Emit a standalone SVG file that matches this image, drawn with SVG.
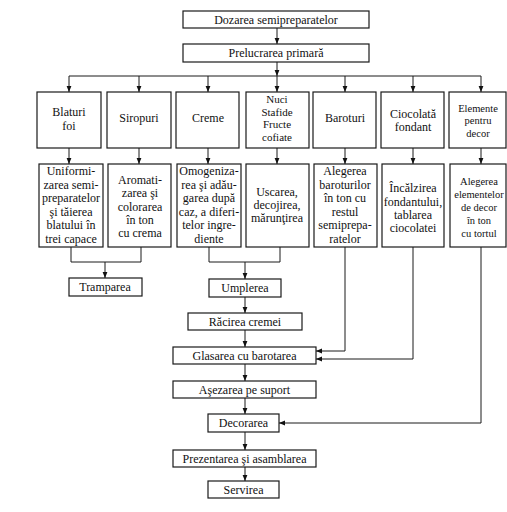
<svg xmlns="http://www.w3.org/2000/svg" width="507" height="512" viewBox="0 0 507 512">
<defs>
<marker id="ah" viewBox="0 0 10 10" refX="10" refY="5" markerWidth="6" markerHeight="6" orient="auto" markerUnits="userSpaceOnUse">
<path d="M0,1 L10,5 L0,9 z" fill="#111"/>
</marker>
</defs>
<style>
rect{fill:#fff;stroke:#1a1a1a;stroke-width:1.2}
text{font-family:"Liberation Serif","Times New Roman",serif;font-size:12px;fill:#111;text-anchor:middle}
.s text{font-size:10.5px}
#n-nuci text{font-size:11px}
#connectors path{fill:none;stroke:#1a1a1a;stroke-width:1}
.a{marker-end:url(#ah)}
</style>
<rect x="0" y="0" width="507" height="512" style="fill:#fff;stroke:none"/>
<g id="connectors">
<path class="a" d="M277,28 V44"/>
<path class="a" d="M277,62 V76"/>
<path d="M69,76 H481"/>
<path class="a" d="M69,76 V92"/>
<path class="a" d="M139,76 V92"/>
<path class="a" d="M208,76 V92"/>
<path class="a" d="M277,76 V92"/>
<path class="a" d="M345,76 V92"/>
<path class="a" d="M413,76 V92"/>
<path class="a" d="M481,76 V92"/>
<path class="a" d="M69,148 V164"/>
<path class="a" d="M139,148 V164"/>
<path class="a" d="M208,148 V164"/>
<path class="a" d="M277,148 V164"/>
<path class="a" d="M345,148 V164"/>
<path class="a" d="M413,148 V164"/>
<path class="a" d="M481,148 V164"/>
<path d="M71,247 V262 H141 V247"/>
<path class="a" d="M105,262 V278"/>
<path d="M209,247 V262 H280 V247"/>
<path class="a" d="M245,262 V279"/>
<path class="a" d="M245,297 V313"/>
<path class="a" d="M245,330 V347"/>
<path class="a" d="M245,364 V381"/>
<path class="a" d="M245,398 V414"/>
<path class="a" d="M245,432 V450"/>
<path class="a" d="M245,467 V481"/>
<path class="a" d="M345,247 V351 H316"/>
<path class="a" d="M413,247 V359 H316"/>
<path class="a" d="M481,247 V423 H279"/>
</g>
<g id="n-dozarea"><rect x="183" y="11" width="186" height="17"/><text x="276" y="24">Dozarea semipreparatelor</text></g>
<g id="n-prelucrarea"><rect x="183" y="44" width="186" height="18"/><text x="276" y="57">Prelucrarea primară</text></g>

<g id="n-blaturi"><rect x="37" y="92" width="64" height="56"/><text x="69" y="116">Blaturi</text><text x="69" y="130">foi</text></g>
<g id="n-siropuri"><rect x="107" y="92" width="64" height="56"/><text x="139" y="122">Siropuri</text></g>
<g id="n-creme"><rect x="176" y="92" width="63" height="56"/><text x="208" y="122">Creme</text></g>
<g id="n-nuci"><rect x="246" y="92" width="63" height="56"/><text x="277" y="103">Nuci</text><text x="277" y="115.5">Stafide</text><text x="277" y="128">Fructe</text><text x="277" y="140.5">cofiate</text></g>
<g id="n-baroturi"><rect x="313" y="92" width="63" height="56"/><text x="345" y="122">Baroturi</text></g>
<g id="n-ciocolata"><rect x="381" y="92" width="63" height="56"/><text x="413" y="118">Ciocolată</text><text x="413" y="131">fondant</text></g>
<g id="n-elemente" class="s"><rect x="449" y="92" width="57" height="56"/><text x="478" y="112">Elemente</text><text x="478" y="124">pentru</text><text x="478" y="136.5">decor</text></g>

<g id="n-uniformizarea"><rect x="39" y="164" width="64" height="83"/><text x="71" y="175">Uniformi-</text><text x="71" y="188.5">zarea semi-</text><text x="71" y="202">preparatelor</text><text x="71" y="215.5">şi tăierea</text><text x="71" y="229">blatului în</text><text x="71" y="242.5">trei capace</text></g>
<g id="n-aromatizarea"><rect x="108" y="164" width="63" height="83"/><text x="140" y="184">Aromati-</text><text x="140" y="197">zarea şi</text><text x="140" y="210.5">colorarea</text><text x="140" y="223.5">în ton</text><text x="140" y="237">cu crema</text></g>
<g id="n-omogenizarea"><rect x="177" y="164" width="64" height="83"/><text x="209" y="175">Omogeniza-</text><text x="209" y="188.5">rea şi adău-</text><text x="209" y="202">garea după</text><text x="209" y="215.5">caz, a diferi-</text><text x="209" y="229">telor ingre-</text><text x="209" y="242.5">diente</text></g>
<g id="n-uscarea"><rect x="246" y="164" width="63" height="83"/><text x="277" y="196">Uscarea,</text><text x="277" y="209">decojirea,</text><text x="277" y="222">mărunţirea</text></g>
<g id="n-alegerea-barot"><rect x="314" y="164" width="63" height="83"/><text x="345" y="175">Alegerea</text><text x="345" y="188.5">baroturilor</text><text x="345" y="202">în ton cu</text><text x="345" y="215.5">restul</text><text x="345" y="229">semiprepa-</text><text x="345" y="242.5">ratelor</text></g>
<g id="n-incalzirea"><rect x="382" y="164" width="62" height="83"/><text x="413" y="192">Încălzirea</text><text x="413" y="205.5">fondantului,</text><text x="413" y="218.5">tablarea</text><text x="413" y="232">ciocolatei</text></g>
<g id="n-alegerea-elem" class="s"><rect x="450" y="164" width="56" height="83"/><text x="479" y="185">Alegerea</text><text x="479" y="198">elementelor</text><text x="479" y="210.5">de decor</text><text x="479" y="223.5">în ton</text><text x="479" y="236.5">cu tortul</text></g>

<g id="n-tramparea"><rect x="69" y="278" width="73" height="18"/><text x="105" y="291">Tramparea</text></g>
<g id="n-umplerea"><rect x="209" y="279" width="72" height="18"/><text x="245" y="292">Umplerea</text></g>
<g id="n-racirea"><rect x="188" y="313" width="114" height="17"/><text x="245" y="326">Răcirea cremei</text></g>
<g id="n-glasarea"><rect x="173" y="347" width="143" height="17"/><text x="244.5" y="360">Glasarea cu barotarea</text></g>
<g id="n-asezarea"><rect x="173" y="381" width="143" height="17"/><text x="244.5" y="394">Aşezarea pe suport</text></g>
<g id="n-decorarea"><rect x="208" y="414" width="71" height="18"/><text x="243.5" y="427">Decorarea</text></g>
<g id="n-prezentarea"><rect x="173" y="450" width="143" height="17"/><text x="244.5" y="463">Prezentarea şi asamblarea</text></g>
<g id="n-servirea"><rect x="208" y="481" width="71" height="17"/><text x="243.5" y="494">Servirea</text></g>
</svg>
